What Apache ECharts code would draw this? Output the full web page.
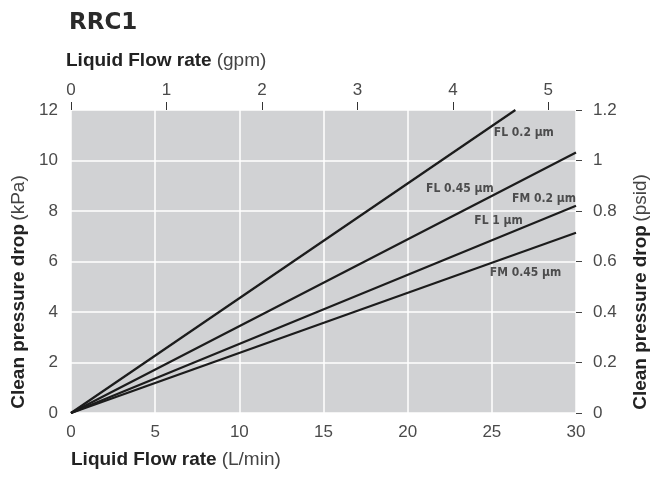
<!DOCTYPE html>
<html>
<head>
<meta charset="utf-8">
<script src="https://cdn.jsdelivr.net/npm/echarts@6/dist/echarts.min.js"></script>
<style>
  html, body { margin: 0; padding: 0; background: #fff; }
  #main { width: 654px; height: 479px; }
</style>
</head>
<body>
<div id="main"></div>
<script>
// axis ticks
var flowTicksLmin = [0, 5, 10, 15, 20, 25, 30];
var flowTicksGpm = [0, 1, 2, 3, 4, 5];
var dropTicksKpa = [0, 2, 4, 6, 8, 10, 12];
var dropTicksPsid = [0, 0.2, 0.4, 0.6, 0.8, 1, 1.2];

// curves: straight lines from the origin (L/min, kPa)
var curveNames = ['FL 0.2 µm', 'FL 0.45 µm', 'FM 0.2 µm / FL 1 µm', 'FM 0.45 µm'];
var curveEndFlow = [26.4, 30, 30, 30];
var curveEndDrop = [12, 10.32, 8.21, 7.14];

// in-chart labels
var labelText = ['FL 0.2 µm', 'FL 0.45 µm', 'FM 0.2 µm', 'FL 1 µm', 'FM 0.45 µm'];
var labelFlow = [26.9, 23.1, 28.1, 25.4, 27.0];
var labelDrop = [11.1, 8.87, 8.47, 7.6, 5.54];

var chart = echarts.init(document.getElementById('main'));

var lineSeries = [];
for (var i = 0; i < curveNames.length; i++) {
    lineSeries.push({
        name: curveNames[i],
        type: 'line',
        xAxisIndex: 0,
        yAxisIndex: 0,
        showSymbol: false,
        silent: true,
        lineStyle: { color: '#1c1c1c', width: 2.2 },
        data: [[0, 0], [curveEndFlow[i], curveEndDrop[i]]]
    });
}

var labelData = [];
for (var j = 0; j < labelText.length; j++) {
    labelData.push({ value: [labelFlow[j], labelDrop[j]], name: labelText[j] });
}

var axisFont = 'Liberation Sans, Arial, sans-serif';
var nameRich = {
    b: { fontFamily: axisFont, fontSize: 19, fontWeight: 'bold', color: '#222' },
    n: { fontFamily: axisFont, fontSize: 19, fontWeight: 'normal', color: '#444' }
};
var tickFont = { fontFamily: axisFont, fontSize: 17, color: '#4a4a4a' };

var option = {
    animation: false,
    title: [
        {
            text: 'RRC1', left: 64, top: 7,
            textStyle: { fontFamily: 'DejaVu Sans, sans-serif', fontSize: 23, fontWeight: 'bold', color: '#2a2a2a' }
        },
        {
            text: '{b|Liquid Flow rate} {n|(gpm)}', left: 66, top: 51, padding: 0,
            textStyle: { rich: nameRich }
        },
        {
            text: '{b|Liquid Flow rate} {n|(L/min)}', left: 71, top: 450, padding: 0,
            textStyle: { rich: nameRich }
        }
    ],
    grid: {
        left: 71, right: 78, top: 110, bottom: 66,
        outerBoundsMode: 'none',
        show: true, backgroundColor: '#d1d2d4', borderWidth: 0
    },
    xAxis: [
        {
            type: 'value', position: 'bottom', min: 0, max: 30, interval: 5,
            axisLine: { show: false, onZero: false }, axisTick: { show: false },
            axisLabel: Object.assign({ margin: 11 }, tickFont),
            splitLine: { show: true, lineStyle: { color: '#fff', width: 1.5 } }
        },
        {
            type: 'value', position: 'top', min: 0, max: 5.29,
            axisLine: { show: false, onZero: false },
            axisTick: { show: true, length: 8, customValues: flowTicksGpm, lineStyle: { color: '#333', width: 1 } },
            axisLabel: Object.assign({ margin: 11, customValues: flowTicksGpm }, tickFont),
            splitLine: { show: false }
        }
    ],
    yAxis: [
        {
            type: 'value', position: 'left', min: 0, max: 12, interval: 2,
            axisLine: { show: false, onZero: false }, axisTick: { show: false },
            axisLabel: Object.assign({ margin: 13 }, tickFont),
            splitLine: { show: true, lineStyle: { color: '#fff', width: 1.5 } },
            name: '{b|Clean pressure drop} {n|(kPa)}',
            nameLocation: 'middle', nameRotate: 90, nameGap: 31,
            nameTextStyle: { rich: nameRich, padding: [0, 61, 0, 0] }
        },
        {
            type: 'value', position: 'right', min: 0, max: 1.2, interval: 0.2,
            axisLine: { show: false, onZero: false },
            axisTick: { show: true, length: 6, lineStyle: { color: '#444', width: 1 } },
            axisLabel: Object.assign({ margin: 17 }, tickFont),
            splitLine: { show: false },
            name: '{b|Clean pressure drop} {n|(psid)}',
            nameLocation: 'middle', nameRotate: 90, nameGap: 55,
            nameTextStyle: { rich: nameRich, padding: [0, 61, 0, 0] }
        }
    ],
    series: lineSeries.concat([
        {
            type: 'scatter',
            xAxisIndex: 0,
            yAxisIndex: 0,
            symbolSize: 0,
            silent: true,
            label: {
                show: true,
                position: 'inside',
                formatter: '{b}',
                fontFamily: 'Liberation Sans Narrow, DejaVu Sans Condensed, sans-serif',
                fontWeight: 'bold',
                fontSize: 12,
                color: '#2a2a2a'
            },
            data: labelData
        }
    ])
};

chart.setOption(option);
</script>
</body>
</html>
